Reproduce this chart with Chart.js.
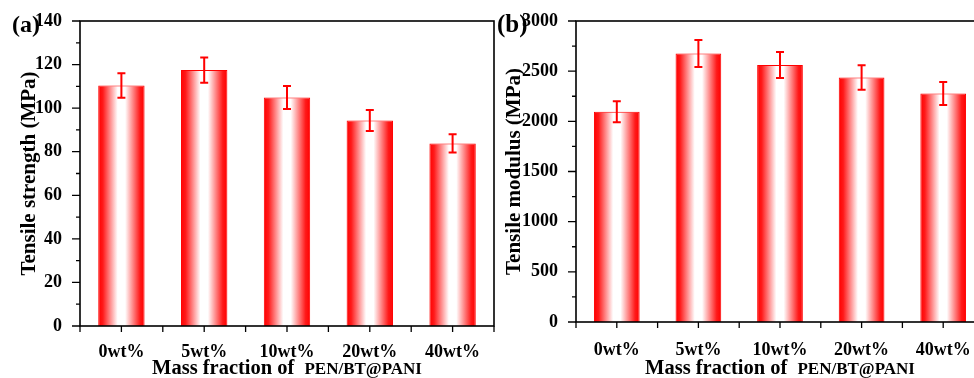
<!DOCTYPE html>
<html>
<head>
<meta charset="utf-8">
<title>Tensile strength and modulus</title>
<script src="https://cdn.jsdelivr.net/npm/chart.js@4/dist/chart.umd.min.js"></script>
<style>
  html, body { margin: 0; padding: 0; background: #fff; overflow: hidden; }
  #wrap { position: relative; width: 974px; height: 378px; overflow: hidden; }
  .panel { position: absolute; top: 0; }
</style>
</head>
<body>
<div id="wrap">
  <canvas id="strengthChart" class="panel" style="left:0" width="497" height="378"></canvas>
  <canvas id="modulusChart" class="panel" style="left:494px" width="500" height="378"></canvas>
</div>
<script>
const categories = ["0wt%", "5wt%", "10wt%", "20wt%", "40wt%"]

const strengthValues = [110.4, 117.5, 104.9, 94.3, 83.8]
const strengthErrors = [5.6, 5.8, 5.3, 4.8, 4.2]
const strengthTicks = [0, 20, 40, 60, 80, 100, 120, 140]

const modulusValues = [2095, 2676, 2562, 2437, 2278]
const modulusErrors = [105, 135, 130, 122, 115]
const modulusTicks = [0, 500, 1000, 1500, 2000, 2500, 3000]

const serif = "'Liberation Serif', 'Times New Roman', serif"
const barShare = 0.56

Chart.defaults.font.family = serif
Chart.defaults.font.weight = "bold"
Chart.defaults.color = "#000"

// red edges fading to white in the middle of every bar
const barGradient = (context) => {
  const chart = context.chart
  if (!chart.chartArea || !chart.scales.x) return "#ff0000"
  const xScale = chart.scales.x
  const cx = xScale.getPixelForValue(context.dataIndex)
  const half = (xScale.width / categories.length) * barShare / 2
  const g = chart.ctx.createLinearGradient(cx - half, 0, cx + half, 0)
  g.addColorStop(0, "#ff0000")
  g.addColorStop(0.1, "#ff1a1a")
  g.addColorStop(0.42, "#ffffff")
  g.addColorStop(0.58, "#ffffff")
  g.addColorStop(0.9, "#ff1a1a")
  g.addColorStop(1, "#ff0000")
  return g
}

const errorBars = {
  id: "errorBars",
  afterDatasetsDraw(chart, args, opts) {
    const { ctx, scales: { x, y } } = chart
    const values = chart.data.datasets[0].data
    ctx.save()
    ctx.strokeStyle = "#ff0000"
    ctx.lineWidth = 2
    ctx.beginPath()
    values.forEach((v, i) => {
      const cx = x.getPixelForValue(i)
      const top = y.getPixelForValue(v + opts.errors[i])
      const bottom = y.getPixelForValue(v - opts.errors[i])
      ctx.moveTo(cx, top)
      ctx.lineTo(cx, bottom)
      ctx.moveTo(cx - 4, top)
      ctx.lineTo(cx + 4, top)
      ctx.moveTo(cx - 4, bottom)
      ctx.lineTo(cx + 4, bottom)
    })
    ctx.stroke()
    ctx.restore()
  },
}

const frame = {
  id: "frame",
  afterDraw(chart, args, opts) {
    const { ctx, chartArea: a, scales: { x, y } } = chart
    ctx.save()
    ctx.strokeStyle = "#000"
    ctx.lineWidth = 1.6
    ctx.strokeRect(a.left, a.top, a.right - a.left, a.bottom - a.top)

    ctx.lineWidth = 1.3
    ctx.beginPath()
    const values = y.ticks.map((t) => t.value)
    values.forEach((v, i) => {
      const py = y.getPixelForValue(v)
      ctx.moveTo(a.left - 8, py)
      ctx.lineTo(a.left, py)
      if (i < values.length - 1) {
        const my = y.getPixelForValue((v + values[i + 1]) / 2)
        ctx.moveTo(a.left - 4, my)
        ctx.lineTo(a.left, my)
      }
    })
    for (let i = -0.5; i <= categories.length - 0.5; i += 0.5) {
      const px = x.getPixelForValue(i)
      ctx.moveTo(px, a.bottom)
      ctx.lineTo(px, a.bottom + 6)
    }
    ctx.stroke()

    // panel letter
    ctx.fillStyle = "#000"
    ctx.textBaseline = "alphabetic"
    ctx.textAlign = "left"
    ctx.font = `bold ${opts.letterSize}px ${serif}`
    ctx.fillText(opts.letter, opts.letterX, 32)

    // x title, two sizes like the original
    const first = "Mass fraction of"
    const second = "PEN/BT@PANI"
    ctx.font = `bold 20.5px ${serif}`
    const w1 = ctx.measureText(first).width
    ctx.font = `bold 17px ${serif}`
    const w2 = ctx.measureText(second).width
    const gap = 10
    const start = (a.left + a.right) / 2 - (w1 + gap + w2) / 2
    ctx.font = `bold 20.5px ${serif}`
    ctx.fillText(first, start, 374)
    ctx.font = `bold 17px ${serif}`
    ctx.fillText(second, start + w1 + gap, 374)
    ctx.restore()
  },
}

const makeChart = (id, values, errors, ticks, yTitle, layout) => {
  const ctx = document.getElementById(id).getContext("2d")
  return new Chart(ctx, {
    type: "bar",
    data: {
      labels: categories,
      datasets: [
        {
          data: values,
          backgroundColor: barGradient,
          borderColor: "#ff0000",
          borderWidth: 1,
          barPercentage: barShare,
          categoryPercentage: 1,
        },
      ],
    },
    options: {
      responsive: false,
      animation: false,
      layout: {
        padding: { left: 0, right: layout.right, top: 21, bottom: 0 },
      },
      plugins: {
        legend: { display: false },
        tooltip: { enabled: false },
        errorBars: { errors: errors },
        frame: { letter: layout.letter, letterX: layout.letterX, letterSize: layout.letterSize },
      },
      scales: {
        x: {
          grid: { display: false },
          border: { display: false },
          ticks: { font: { size: 18 }, padding: layout.xPad, maxRotation: 0 },
          afterFit: (scale) => { scale.height = layout.xHeight },
        },
        y: {
          min: ticks[0],
          max: ticks[ticks.length - 1],
          grid: { display: false },
          border: { display: false },
          ticks: { font: { size: 18 }, padding: layout.yPad, callback: (v) => String(v) },
          afterBuildTicks: (scale) => {
            scale.ticks = ticks.map((v) => ({ value: v }))
          },
          afterFit: (scale) => { scale.width = layout.yWidth },
          title: {
            display: true,
            text: yTitle,
            font: { size: 21 },
            padding: { top: layout.titlePad, bottom: 0 },
          },
        },
      },
    },
    plugins: [errorBars, frame],
  })
}

makeChart("strengthChart", strengthValues, strengthErrors, strengthTicks, "Tensile strength (MPa)", {
  right: 3, xHeight: 52, yWidth: 80, yPad: 10, xPad: 8, titlePad: 17,
  letter: "(a)", letterX: 12, letterSize: 24,
})

makeChart("modulusChart", modulusValues, modulusErrors, modulusTicks, "Tensile modulus (MPa)", {
  right: 10, xHeight: 56, yWidth: 82, yPad: 10, xPad: 10, titlePad: 8,
  letter: "(b)", letterX: 3, letterSize: 25,
})
</script>
</body>
</html>
